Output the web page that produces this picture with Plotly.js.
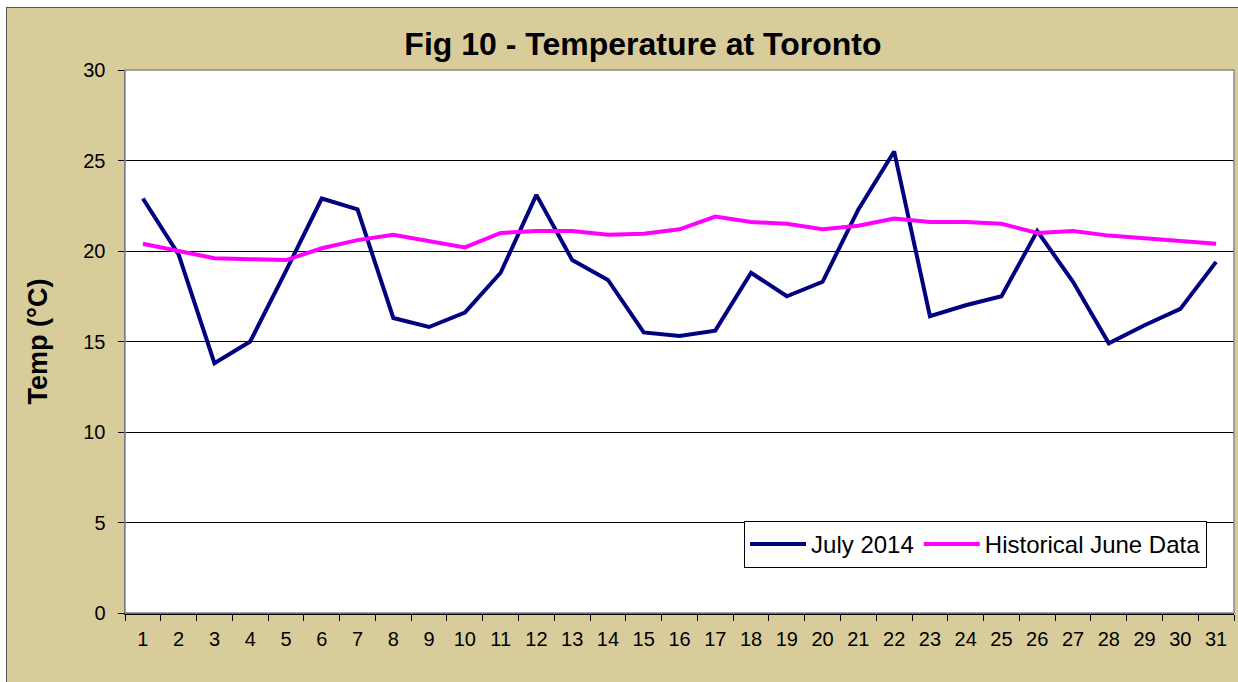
<!DOCTYPE html>
<html>
<head>
<meta charset="utf-8">
<script src="https://cdn.plot.ly/plotly-3.0.1.min.js"></script>
<style>
  html, body { margin:0; padding:0; background:#ffffff; overflow:hidden; }
  #chart { position:absolute; left:6px; top:7px; width:1231px; height:680px; border:1px solid #555; background:#D8CD9A; }
</style>
</head>
<body>
<div id="chart"></div>
<script>
const days = ["1","2","3","4","5","6","7","8","9","10","11","12","13","14","15","16","17","18","19","20","21","22","23","24","25","26","27","28","29","30","31"];
const july2014 = [22.9,19.8,13.8,15.0,18.9,22.9,22.3,16.3,15.8,16.6,18.8,23.1,19.5,18.4,15.5,15.3,15.6,18.8,17.5,18.3,22.3,25.5,16.4,17.0,17.5,21.1,18.3,14.9,15.9,16.8,19.4];
const historicalJune = [20.4,20.0,19.6,19.55,19.5,20.15,20.6,20.9,20.57,20.2,21.0,21.1,21.1,20.9,20.95,21.2,21.9,21.6,21.5,21.2,21.4,21.8,21.6,21.6,21.5,21.0,21.1,20.85,20.7,20.55,20.4];
const yTicks = [0,5,10,15,20,25,30];

const traces = [
  {x: days, y: july2014, type:'scatter', mode:'lines', name:'July 2014',
   line:{color:'#000080', width:4}},
  {x: days, y: historicalJune, type:'scatter', mode:'lines', name:'Historical June Data',
   line:{color:'#FF00FF', width:4}}
];

const layout = {
  width:1231, height:680,
  margin:{l:118, r:4, t:62, b:75},
  paper_bgcolor:'#D8CD9A',
  plot_bgcolor:'#ffffff',
  font:{family:'"Liberation Sans", Arial, sans-serif', color:'#000', size:20},
  title:{text:'<b>Fig 10 - Temperature at Toronto</b>', font:{size:32, color:'#000'},
         xref:'paper', x:0.467, xanchor:'center', yref:'container', y:0.948, yanchor:'middle'},
  xaxis:{type:'category', range:[-0.5, 30.5], tickson:'boundaries', ticks:'outside', ticklen:6, tickcolor:'#000',
         showline:true, linecolor:'#000', linewidth:1.5, showgrid:false, zeroline:false,
         tickfont:{size:20}, ticklabelstandoff:7, fixedrange:true},
  yaxis:{range:[0,30], tickvals:yTicks, ticks:'outside', ticklen:6, tickcolor:'#000',
         showline:true, linecolor:'#555', linewidth:1.5, showgrid:true, gridcolor:'#000', gridwidth:1,
         zeroline:false, tickfont:{size:20}, ticklabelstandoff:8,
         title:{text:'<b>Temp (°C)</b>', font:{size:27}, standoff:28}},
  showlegend:true,
  legend:{orientation:'h', x:0.9757, xanchor:'right', y:0.1694, yanchor:'top',
          bgcolor:'#ffffff', bordercolor:'#000', borderwidth:1, font:{size:24},
          itemwidth:56, tracegroupgap:0},
  shapes:[{type:'rect', xref:'paper', yref:'paper', x0:0, x1:1, y0:0, y1:1,
           line:{color:'#888', width:1.5}, layer:'above'}]
};

Plotly.newPlot('chart', traces, layout, {displayModeBar:false, staticPlot:true});
</script>
</body>
</html>
